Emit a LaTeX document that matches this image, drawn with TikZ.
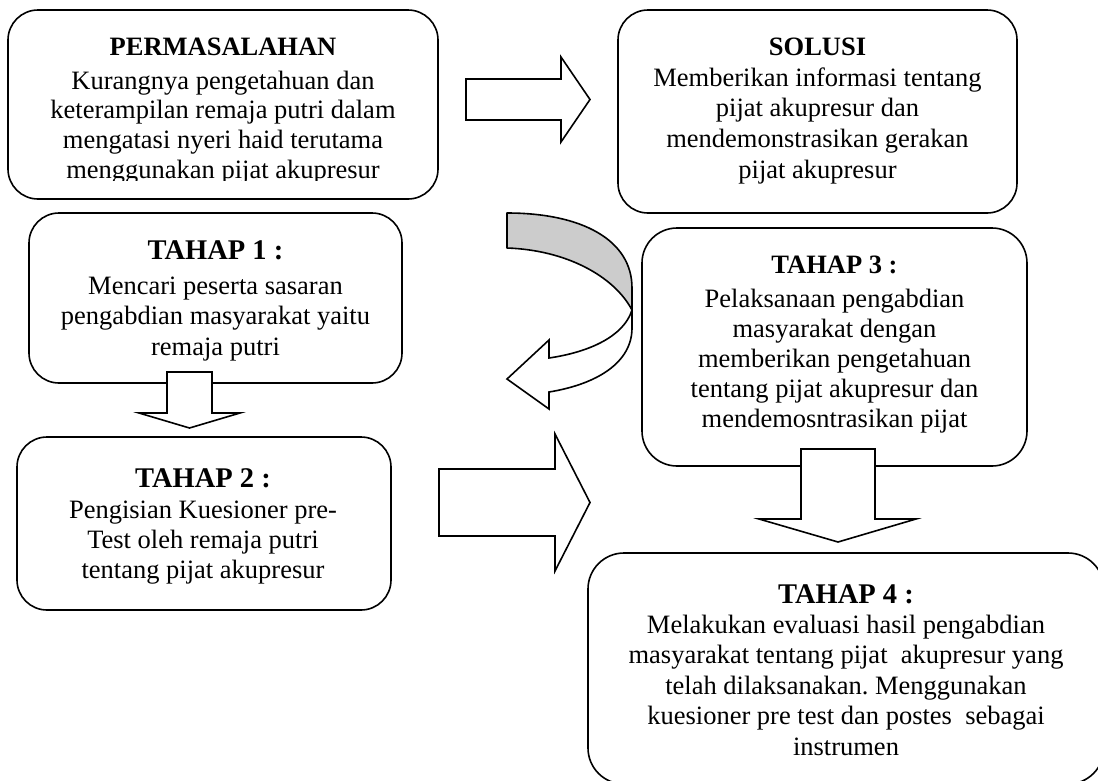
\documentclass[tikz,border=0pt]{standalone}
\usepackage{fontspec}
\setmainfont{Liberation Serif}
\frenchspacing
\begin{document}
\begin{tikzpicture}[x=1pt,y=-1pt,
  box/.style={draw, line width=1.6pt, fill=white, inner sep=0pt, rounded corners=30pt},
  blockarrow/.style={draw, line width=1.6pt, fill=white, line join=miter},
  headsmall/.style={anchor=base, inner sep=0pt, font={\fontsize{26.5pt}{30pt}\selectfont\bfseries}},
  headbig/.style={anchor=base, inner sep=0pt, font={\fontsize{28.5pt}{32pt}\selectfont\bfseries}},
  bodytxt/.style={anchor=base, inner sep=0pt, font={\fontsize{26.5pt}{#1}\selectfont}},
  bodytxt/.default=30pt]
\useasboundingbox (0,0) rectangle (1098,780);
\clip (0,0) rectangle (1098,780);

% boxes
\node[box, minimum width=430pt, minimum height=189pt] (perm) at (223,104.5) {};
\node[box, minimum width=399pt, minimum height=203pt] (sol) at (817.5,111.5) {};
\node[box, minimum width=373pt, minimum height=170pt] (t1) at (215.5,298) {};
\node[box, minimum width=385pt, minimum height=238pt, rounded corners=35pt] (t3) at (834.5,347) {};
\node[box, minimum width=374pt, minimum height=173pt] (t2) at (204,523.5) {};
\node[box, minimum width=516pt, minimum height=231pt, rounded corners=36pt] (t4) at (846,668.5) {};

% texts
\node[headsmall] (permh) at (223,55) {PERMASALAHAN};
\begin{scope}
\clip (0,0) rectangle (1098,180.5);
\node[bodytxt=29.7pt] (permb) at (223,89) {\begin{tabular}[t]{@{}c@{}}Kurangnya pengetahuan dan\\ keterampilan remaja putri dalam\\ mengatasi nyeri haid terutama\\ menggunakan pijat akupresur\end{tabular}};
\end{scope}

\node[headsmall] (solh) at (817.5,55) {SOLUSI};
\node[bodytxt=30.7pt] (solb) at (817.5,86) {\begin{tabular}[t]{@{}c@{}}Memberikan informasi tentang\\ pijat akupresur dan\\ mendemonstrasikan gerakan\\ pijat akupresur\end{tabular}};

\node[headbig] (t1h) at (215.5,259) {TAHAP 1 :};
\node[bodytxt=30.5pt] (t1b) at (215.5,294) {\begin{tabular}[t]{@{}c@{}}Mencari peserta sasaran\\ pengabdian masyarakat yaitu\\ remaja putri\end{tabular}};

\node[headbig] (t2h) at (203,487) {TAHAP 2 :};
\node[bodytxt=30pt] (t2b) at (203,518) {\begin{tabular}[t]{@{}c@{}}Pengisian Kuesioner pre-\\ Test oleh remaja putri\\ tentang pijat akupresur\end{tabular}};

\node[headsmall] (t3h) at (834.5,273) {TAHAP 3 :};
\node[bodytxt=30pt] (t3b) at (834.5,307) {\begin{tabular}[t]{@{}c@{}}Pelaksanaan pengabdian\\ masyarakat dengan\\ memberikan pengetahuan\\ tentang pijat akupresur dan\\ mendemosntrasikan pijat\end{tabular}};

\node[headbig] (t4h) at (846,603) {TAHAP 4 :};
\node[bodytxt=30.5pt] (t4b) at (846,633) {\begin{tabular}[t]{@{}c@{}}Melakukan evaluasi hasil pengabdian\\ masyarakat tentang pijat~ akupresur yang\\ telah dilaksanakan. Menggunakan\\ kuesioner pre test dan postes~ sebagai\\ instrumen\end{tabular}};

% block arrows
\draw[blockarrow] (466,79) -- (561,79) -- (561,57) -- (590,99.5) -- (561,142) -- (561,120) -- (466,120) -- cycle;
\draw[blockarrow] (439,469) -- (555,469) -- (555,434) -- (590,502.5) -- (555,571) -- (555,536) -- (439,536) -- cycle;
\draw[blockarrow] (167,372) -- (212,372) -- (212,413) -- (240,413) -- (189.5,428) -- (139,413) -- (167,413) -- cycle;
\draw[blockarrow] (801,449) -- (875,449) -- (875,519) -- (916,519) -- (838,542) -- (759,519) -- (801,519) -- cycle;

% curved arrow
\draw[line width=1.6pt, fill=black!20, line join=round]
  (507,213) .. controls (582,213) and (632,240) .. (632,288) -- (632,310)
  .. controls (614,276) and (566,250) .. (507,248) -- cycle;
\draw[blockarrow]
  (632,310) -- (632,328) .. controls (632,362) and (598,384) .. (549,392)
  -- (549,409) -- (507,379) -- (549,340) -- (549,358)
  .. controls (590,352) and (624,336) .. (632,310) -- cycle;
\end{tikzpicture}
\end{document}
